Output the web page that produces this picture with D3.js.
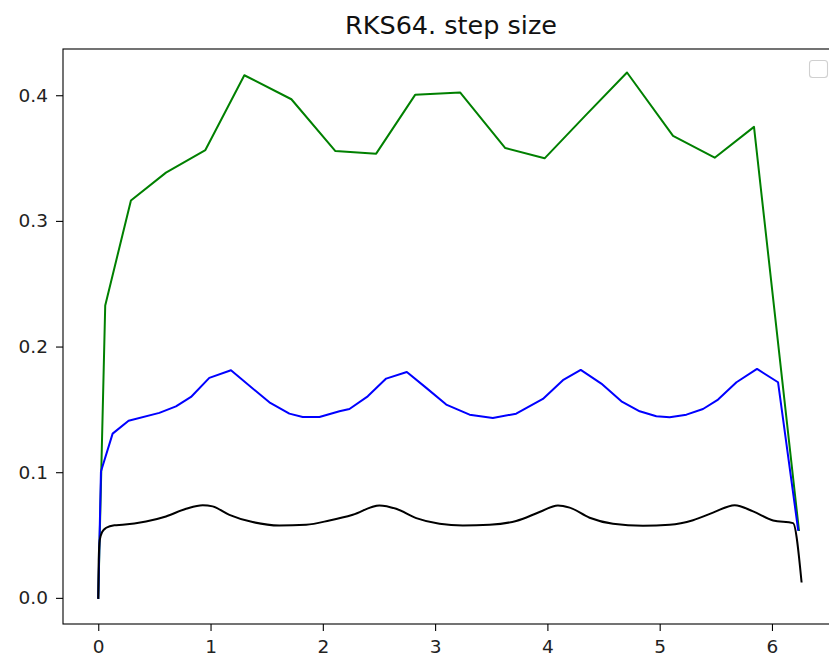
<!DOCTYPE html>
<html>
<head>
<meta charset="utf-8">
<script src="https://cdn.jsdelivr.net/npm/d3@7"></script>
<style>
  html, body { margin: 0; padding: 0; background: #fff; }
  svg { display: block; font-family: "DejaVu Sans", sans-serif; }
</style>
</head>
<body>
<svg id="chart" width="829" height="661"></svg>
<script>
const title = "RKS64. step size";

const greenX = [0, 0.062, 0.291, 0.603, 0.954, 1.301, 1.72, 2.112, 2.475, 2.822, 3.224, 3.625, 3.975, 4.34, 4.709, 5.119, 5.49, 5.84, 6.24];
const greenY = [0, 0.2327, 0.3163, 0.3384, 0.3564, 0.4159, 0.3968, 0.3556, 0.3535, 0.4003, 0.4021, 0.358, 0.3498, 0.384, 0.4181, 0.3676, 0.3503, 0.3748, 0.054];

const blueX = [0, 0.024, 0.128, 0.27, 0.544, 0.692, 0.826, 0.989, 1.182, 1.524, 1.702, 1.821, 1.97, 2.148, 2.237, 2.4, 2.564, 2.748, 2.921, 3.099, 3.307, 3.514, 3.722, 3.96, 4.138, 4.297, 4.48, 4.659, 4.822, 4.97, 5.089, 5.238, 5.386, 5.52, 5.684, 5.867, 6.054, 6.233];
const blueY = [0, 0.1006, 0.1307, 0.141, 0.1472, 0.1524, 0.1599, 0.1751, 0.1811, 0.1556, 0.1466, 0.144, 0.144, 0.1485, 0.1503, 0.1604, 0.1745, 0.1798, 0.1671, 0.1538, 0.1458, 0.1432, 0.1466, 0.1583, 0.1732, 0.1814, 0.1705, 0.1564, 0.1485, 0.1445, 0.1437, 0.1458, 0.1503, 0.1578, 0.1716, 0.1822, 0.1716, 0.0542];

const blackX = [0, 0.004, 0.013, 0.036, 0.071, 0.143, 0.217, 0.425, 0.603, 0.782, 0.93, 1.019, 1.168, 1.375, 1.613, 1.851, 2.059, 2.267, 2.504, 2.653, 2.832, 3.039, 3.247, 3.485, 3.722, 3.93, 4.094, 4.198, 4.376, 4.584, 4.851, 5.089, 5.297, 5.475, 5.668, 5.832, 6.01, 6.188, 6.263];
const blackY = [0, 0.030, 0.046, 0.0526, 0.0558, 0.0578, 0.0582, 0.0608, 0.0648, 0.0709, 0.0738, 0.0728, 0.0661, 0.0603, 0.0576, 0.0582, 0.0616, 0.0662, 0.0736, 0.0709, 0.0635, 0.059, 0.0576, 0.0582, 0.0612, 0.0683, 0.0736, 0.0718, 0.0638, 0.059, 0.0574, 0.0582, 0.0618, 0.0678, 0.0738, 0.0688, 0.0616, 0.0595, 0.013];

const xTicks = [0, 1, 2, 3, 4, 5, 6];
const yTicks = [0.0, 0.1, 0.2, 0.3, 0.4];
const yTickLabels = ["0.0", "0.1", "0.2", "0.3", "0.4"];

(function () {
const svg = d3.select("#chart");
const mLeft = 63, mRight = 839, mTop = 49, mBottom = 624;

const x = d3.scaleLinear().domain([-0.314, 6.597]).range([mLeft, mRight]);
const y = d3.scaleLinear().domain([-0.0208, 0.4368]).range([mBottom, mTop]);

const series = [
  { xs: greenX, ys: greenY, color: "#008000", curve: d3.curveLinear },
  { xs: blueX, ys: blueY, color: "#0000ff", curve: d3.curveLinear },
  { xs: blackX, ys: blackY, color: "#000000", curve: d3.curveMonotoneX }
];

svg.append("clipPath").attr("id", "clip")
  .append("rect").attr("x", mLeft).attr("y", mTop).attr("width", mRight - mLeft).attr("height", mBottom - mTop);

const plot = svg.append("g").attr("clip-path", "url(#clip)");
series.forEach(s => {
  const pts = s.xs.map((v, i) => [v, s.ys[i]]);
  const line = d3.line().x(d => x(d[0])).y(d => y(d[1])).curve(s.curve);
  plot.append("path").datum(pts)
    .attr("d", line)
    .attr("fill", "none")
    .attr("stroke", s.color)
    .attr("stroke-width", 2)
    .attr("stroke-linejoin", "round")
    .attr("stroke-linecap", "square");
});

const xAxis = d3.axisBottom(x).tickValues(xTicks).tickFormat(d3.format("d")).tickSize(7).tickPadding(9);
const yAxis = d3.axisLeft(y).tickValues(yTicks).tickFormat((d, i) => yTickLabels[i]).tickSize(7).tickPadding(8);

const gx = svg.append("g").attr("transform", `translate(0,${mBottom})`).call(xAxis);
const gy = svg.append("g").attr("transform", `translate(${mLeft},0)`).call(yAxis);
[gx, gy].forEach(g => {
  g.select(".domain").remove();
  g.selectAll(".tick line").attr("stroke", "#000").attr("stroke-width", 1.1);
  g.selectAll(".tick text").attr("fill", "#222").style("font-size", "18.5px").style("font-family", "DejaVu Sans");
});

svg.append("rect").attr("x", mLeft).attr("y", mTop).attr("width", mRight - mLeft).attr("height", mBottom - mTop)
  .attr("fill", "none").attr("stroke", "#000").attr("stroke-width", 1.1);

svg.append("rect").attr("x", 809.5).attr("y", 60.5).attr("width", 18).attr("height", 17).attr("rx", 3)
  .attr("fill", "#fff").attr("fill-opacity", 0.8).attr("stroke", "#d0d0d0").attr("stroke-width", 1.1);

svg.append("text").attr("x", (mLeft + mRight) / 2).attr("y", 34).attr("text-anchor", "middle")
  .attr("fill", "#111").style("font-size", "25.5px").text(title);
})();
</script>
</body>
</html>
